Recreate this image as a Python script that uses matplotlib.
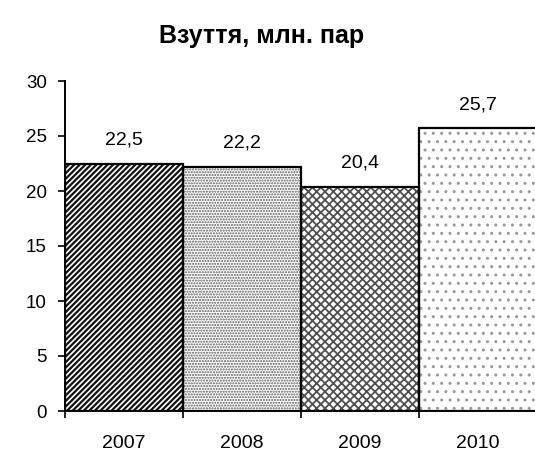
import matplotlib.pyplot as plt

# дані
years = ['2007', '2008', '2009', '2010']
values = [22.5, 22.2, 20.4, 25.7]
labels = ['22,5', '22,2', '20,4', '25,7']
hatches = ['//////', '......', 'xxxx', '..']
hatch_colors = ['#111111', '#5a5a5a', '#505050', '#999999']
hatch_widths = [1.6, 1.0, 1.3, 1.0]

plt.rcParams['font.family'] = ['Liberation Sans', 'DejaVu Sans']

fig = plt.figure(figsize=(5.35, 4.54), dpi=100)
ax = fig.add_axes([65 / 535, 43 / 454, 472 / 535, 330 / 454])

x = list(range(len(years)))

# шар штрихування (кожен стовпчик окремо, щоб задати товщину штриха)
for xi, v, h, hc, hw in zip(x, values, hatches, hatch_colors, hatch_widths):
    with plt.rc_context({'hatch.linewidth': hw}):
        ax.bar(xi, v, width=1.0, color='white', edgecolor=hc, hatch=h, linewidth=0)
# контур
ax.bar(x, values, width=1.0, fill=False, edgecolor='black', linewidth=1.6)

for xi, v, lab in zip(x, values, labels):
    ax.annotate(lab, (xi, v), xytext=(0, 11), textcoords='offset points',
                ha='center', va='bottom', fontsize=14)

ax.set_xlim(-0.5, 3.5)
ax.set_ylim(0, 30)
ax.set_yticks([0, 5, 10, 15, 20, 25, 30])
ax.tick_params(axis='y', labelsize=13.5, length=5, width=1.2, direction='out', pad=8)

ax.set_xticks([-0.5, 0.5, 1.5, 2.5, 3.5])
ax.set_xticklabels([])
ax.tick_params(axis='x', which='major', length=5, width=1.2)
ax.set_xticks(x, minor=True)
ax.set_xticklabels(years, minor=True)
ax.tick_params(axis='x', which='minor', length=0, labelsize=14, pad=17)

for s in ['top', 'right']:
    ax.spines[s].set_visible(False)
ax.spines['left'].set_linewidth(1.4)
ax.spines['bottom'].set_linewidth(1.4)

fig.text(262 / 535, 1 - 36 / 454, 'Взуття, млн. пар', ha='center', va='center',
         fontsize=18, fontweight='bold')

fig.savefig('out.png', dpi=100)
